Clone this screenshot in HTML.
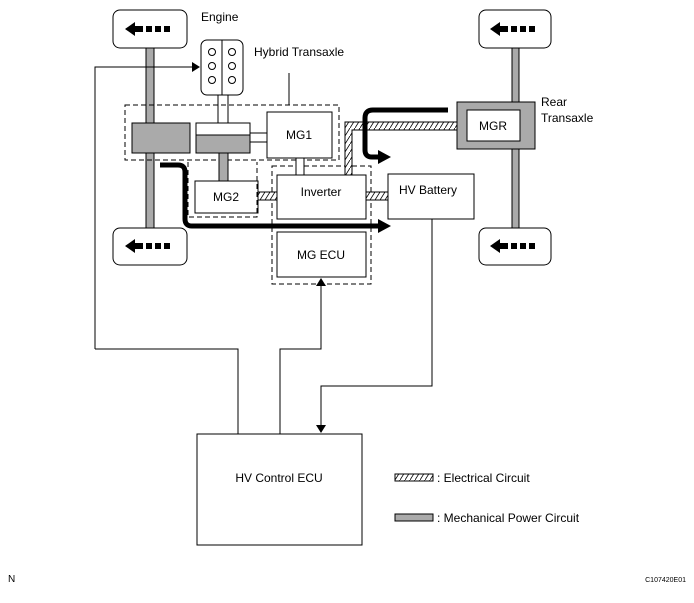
<!DOCTYPE html>
<html><head><meta charset="utf-8"><style>
body{margin:0;background:#fff;}
svg{display:block;font-family:"Liberation Sans",Arial,sans-serif;}
</style></head><body>
<svg width="694" height="603" viewBox="0 0 694 603" xmlns="http://www.w3.org/2000/svg">
<defs>
<pattern id="hatch" width="5" height="8" patternUnits="userSpaceOnUse">
<rect width="5" height="8" fill="#fff"/><line x1="0" y1="8" x2="5" y2="0" stroke="#000" stroke-width="0.8"/>
</pattern>
<marker id="ah" markerWidth="8" markerHeight="10" refX="7" refY="5" orient="auto" markerUnits="userSpaceOnUse"><path d="M0,0 L8,5 L0,10 Z" fill="#000"/></marker>
</defs>
<g stroke="#000" stroke-width="1" fill="none">
<rect x="146" y="48" width="8" height="180" fill="#aaa"/>
<rect x="512" y="48" width="7" height="180" fill="#aaa"/>
<rect x="113" y="10" width="74" height="38" rx="7" fill="#fff"/>
<rect x="113" y="228" width="74" height="37" rx="7" fill="#fff"/>
<rect x="479" y="10" width="72" height="38" rx="7" fill="#fff"/>
<rect x="479" y="228" width="72" height="37" rx="7" fill="#fff"/>
</g>
<g fill="#000">
<path d="M125,29 l10,-7 v4 h8 v6 h-8 v4 z"/><rect x="146" y="26" width="6" height="6"/><rect x="155" y="26" width="6" height="6"/><rect x="164" y="26" width="6" height="6"/>
<path d="M125,246 l10,-7 v4 h8 v6 h-8 v4 z"/><rect x="146" y="243" width="6" height="6"/><rect x="155" y="243" width="6" height="6"/><rect x="164" y="243" width="6" height="6"/>
<path d="M490,29 l10,-7 v4 h8 v6 h-8 v4 z"/><rect x="511" y="26" width="6" height="6"/><rect x="520" y="26" width="6" height="6"/><rect x="529" y="26" width="6" height="6"/>
<path d="M490,246 l10,-7 v4 h8 v6 h-8 v4 z"/><rect x="511" y="243" width="6" height="6"/><rect x="520" y="243" width="6" height="6"/><rect x="529" y="243" width="6" height="6"/>
</g>
<g stroke="#000" stroke-width="1" fill="none">
<rect x="201" y="40" width="42" height="55" rx="6" fill="#fff"/>
<line x1="222" y1="40" x2="222" y2="95"/>
<circle cx="212" cy="52" r="3.5"/><circle cx="212" cy="66" r="3.5"/><circle cx="212" cy="80" r="3.5"/>
<circle cx="232" cy="52" r="3.5"/><circle cx="232" cy="66" r="3.5"/><circle cx="232" cy="80" r="3.5"/>
<rect x="218" y="95" width="10" height="28" fill="#fff"/>
<rect x="125" y="105" width="214" height="55" stroke-dasharray="5,3"/>
<line x1="289" y1="73" x2="289" y2="105"/>
<rect x="132" y="123" width="58" height="30" fill="#aaa"/>
<rect x="196" y="123" width="54" height="30" fill="#aaa"/>
<rect x="196" y="123" width="54" height="12" fill="#fff"/>
<rect x="250" y="133" width="17" height="9" fill="#fff"/>
<rect x="267" y="112" width="65" height="46" fill="#fff"/>
<rect x="219" y="153" width="9" height="28" fill="#aaa"/>
<rect x="195" y="181" width="63" height="32" fill="#fff"/>
<path d="M188,162 V217 H257 V162" stroke-dasharray="5,3"/>
<rect x="272" y="166" width="99" height="118" stroke-dasharray="5,3"/>
<rect x="258" y="192" width="19" height="8" fill="url(#hatch)"/>
<rect x="366" y="192" width="22" height="8" fill="url(#hatch)"/>
<rect x="296" y="158" width="8" height="17" fill="#fff"/>
<rect x="277" y="175" width="89" height="44" fill="#fff"/>
<rect x="277" y="232" width="89" height="45" fill="#fff"/>
<rect x="388" y="174" width="86" height="45" fill="#fff"/>
<path d="M345,175 V122 H466 V130 H352 V175 Z" fill="url(#hatch)"/>
<rect x="457" y="102" width="78" height="47" fill="#aaa"/>
<rect x="467" y="110" width="53" height="31" fill="#fff"/>
<path d="M95,349 V67 H199" marker-end="url(#ah)"/>
<path d="M95,349 H238 V434"/>
<path d="M280,434 V349 H321 V279" marker-end="url(#ah)"/>
<path d="M432,219 V386 H321 V432" marker-end="url(#ah)"/>
<rect x="197" y="434" width="165" height="111" fill="#fff"/>
<rect x="395" y="474" width="38" height="7" fill="url(#hatch)"/>
<rect x="395" y="514" width="38" height="7" fill="#aaa"/>
</g>
<g stroke="#000" stroke-width="5" fill="none">
<path d="M448,110 H373 Q365,110 365,118 V150 Q365,157 372,157 H380"/>
<path d="M160,165 H178 Q185,165 185,172 V219 Q185,226 192,226 H380"/>
</g>
<g fill="#000">
<path d="M378,150 L391,157 L378,164 Z"/>
<path d="M378,219 L391,226 L378,233 Z"/>
</g>
<g font-size="12" fill="#000">
<text x="201" y="21">Engine</text>
<text x="254" y="56">Hybrid Transaxle</text>
<text x="299" y="139" text-anchor="middle">MG1</text>
<text x="226" y="201" text-anchor="middle">MG2</text>
<text x="321" y="196" text-anchor="middle">Inverter</text>
<text x="321" y="259" text-anchor="middle">MG ECU</text>
<text x="399" y="194">HV Battery</text>
<text x="493" y="130" text-anchor="middle">MGR</text>
<text x="541" y="106">Rear</text>
<text x="541" y="122">Transaxle</text>
<text x="279" y="482" text-anchor="middle">HV Control ECU</text>
<text x="437" y="482">: Electrical Circuit</text>
<text x="437" y="522">: Mechanical Power Circuit</text>
<text x="8" y="582" font-size="10">N</text>
<text x="686" y="582" font-size="7" text-anchor="end">C107420E01</text>
</g>
</svg>
</body></html>
